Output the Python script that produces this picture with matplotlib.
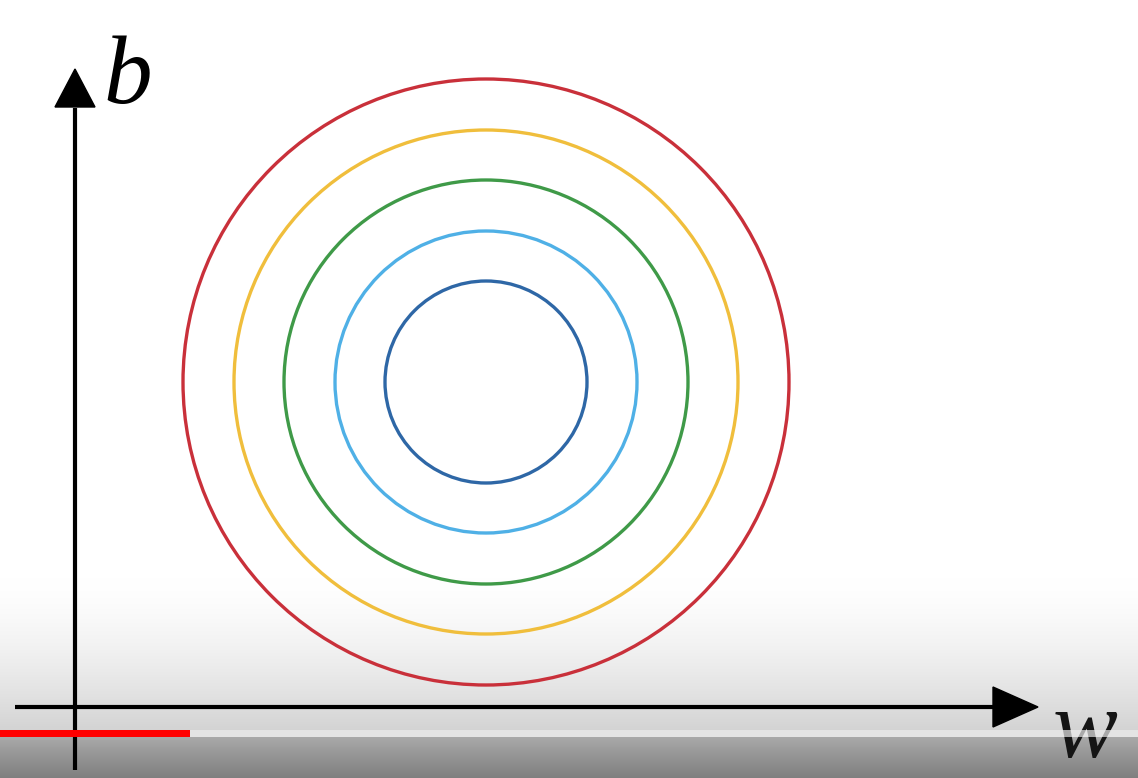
import numpy as np
import matplotlib.pyplot as plt
from matplotlib.patches import Circle, Rectangle

# contour rings (pixel-ish units, origin at axis crossing)
center_w = 411
center_b = 326
radii = [101, 151, 202, 252, 303]
colors = ["#2e67a6", "#4fb0e6", "#3f9a48", "#f0be3c", "#c9303a"]

# youtube progress bar
progress = 190 / 1138

fig = plt.figure(figsize=(11.38, 7.78), dpi=100)
ax = fig.add_axes([0, 0, 1, 1])
ax.set_xlim(-75, 1063)
ax.set_ylim(-70, 708)
ax.axis("off")

# grey overlay at the bottom (player controls)
grad = np.linspace(0, 1, 200).reshape(-1, 1)
top = np.ones((200, 1, 3))
g = 1 - 0.17 * grad ** 1.5
for k in range(3):
    top[:, 0, k] = g[:, 0]
ax.imshow(top, extent=[-75, 1063, -22, 130], aspect="auto", zorder=0)
low = np.ones((40, 1, 3))
g2 = 0.66 - 0.16 * np.linspace(0, 1, 40)
for k in range(3):
    low[:, 0, k] = g2
ax.imshow(low, extent=[-75, 1063, -70, -29], aspect="auto", zorder=0)

for r, c in zip(radii, colors):
    ax.add_patch(Circle((center_w, center_b), r, fill=False, lw=2.4, color=c, zorder=2))

# axes with arrows
ax.plot([-60, 920], [1, 1], color="black", lw=3, solid_capstyle="butt", zorder=3)
ax.plot([0, 0], [-62, 600], color="black", lw=3, solid_capstyle="butt", zorder=3)
ax.add_patch(plt.Polygon([[918, 21], [918, -19], [963, 1]], color="black", zorder=3))
ax.add_patch(plt.Polygon([[-20, 601], [20, 601], [0, 639]], color="black", zorder=3))

ax.text(28, 628, "b", fontsize=70, family="Liberation Serif", style="italic", ha="left", va="center")
ax.text(978, -26, "w", fontsize=70, family="Liberation Serif", style="italic", ha="left", va="center",
        color="#151515", zorder=4)

# progress bar
ax.add_patch(Rectangle((-75, -29), 1138, 7, color="#dcdcdc", alpha=0.75, zorder=5, lw=0))
ax.add_patch(Rectangle((-75, -29), 1138 * progress, 7, color="#ff0000", zorder=6, lw=0))

fig.savefig("out.png", dpi=100)
